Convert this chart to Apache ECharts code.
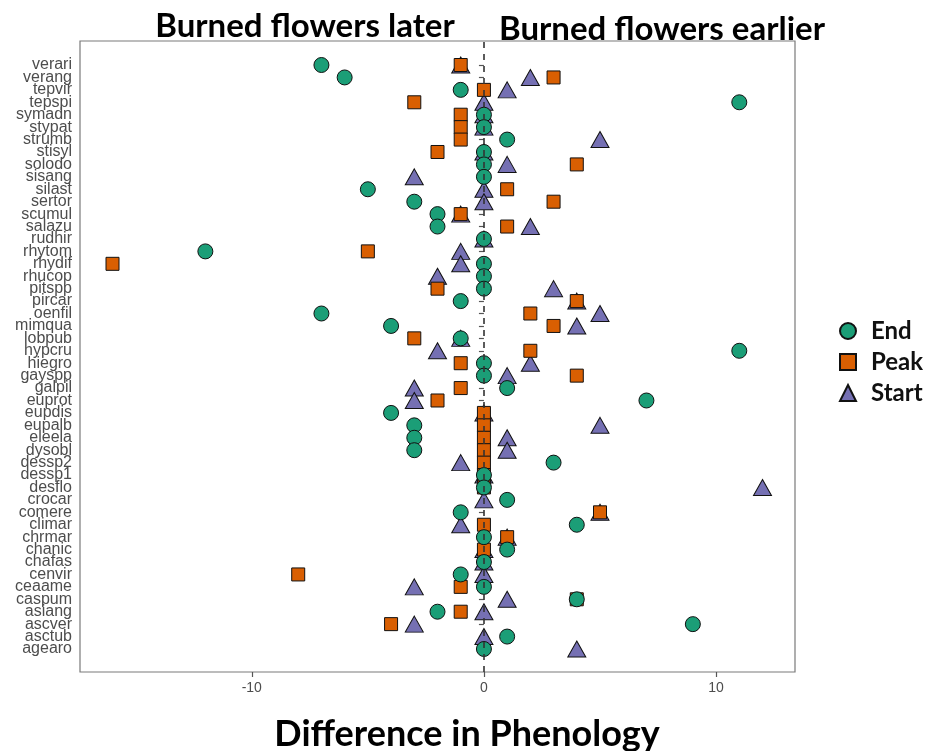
<!DOCTYPE html>
<html>
<head>
<meta charset="utf-8">
<script src="https://cdn.jsdelivr.net/npm/echarts@6/dist/echarts.min.js"></script>
<style>html,body{margin:0;padding:0;background:#fff;}#chart{width:934px;height:751px;}</style>
</head>
<body>
<div id="chart"></div>
<script>
// Species (top to bottom)
const species = ['verari','verang','tepvir','tepspi','symadn','stypat','strumb','stisyl','solodo','sisang','silast','sertor','scumul','salazu','rudhir','rhytom','rhydif','rhucop','pitspp','pircar','oenfil','mimqua','lobpub','hypcru','hiegro','gayspp','galpil','euprot','eupdis','eupalb','eleela','dysobl','dessp2','dessp1','desflo','crocar','comere','climar','chrmar','chanic','chafas','cenvir','ceaame','caspum','asiang','ascver','asctub','agearo'];
const endVals   = [-7,-6,-1,11,0,0,1,0,0,0,-5,-3,-2,-2,0,-12,0,0,0,-1,-7,-4,-1,11,0,0,1,7,-4,-3,-3,-3,3,0,0,1,-1,4,0,1,0,-1,0,4,-2,9,1,0];
const peakVals  = [-1,3,0,-3,-1,-1,-1,-2,4,null,1,3,-1,1,null,-5,-16,null,-2,4,2,3,-3,2,-1,4,-1,-2,0,0,0,0,0,0,0,null,5,0,1,0,null,-8,-1,4,-1,-4,null,null];
const startVals = [-1,2,1,0,0,0,5,0,1,-3,0,0,-1,2,0,-1,-1,-2,3,4,5,4,-1,-2,2,1,-3,-3,0,5,1,1,-1,0,12,0,5,-1,1,0,0,0,-3,1,0,-3,0,4];
const xTicks = [-10, 0, 10];
const seriesNames = ['End', 'Peak', 'Start'];

function pts(vals){
  const out = [];
  vals.forEach((v,i)=>{ if(v!==null) out.push([v, species[i]]); });
  return out;
}

const chart = echarts.init(document.getElementById('chart'), null, {renderer:'canvas'});
const XMIN = -17.4, XMAX = 13.4;
const labelFont = 'Liberation Sans';
const option = {
  backgroundColor: '#ffffff',
  animation: false,
  grid: [
    {left: 80, right: 139, top: 41, bottom: 79, show: true, borderColor: '#7a7a7a', borderWidth: 1.2, backgroundColor: 'transparent'},
    {left: 80, right: 139, top: 58.8, bottom: 95.8, show: false}
  ],
  xAxis: [
    {gridIndex: 0, type: 'value', min: XMIN, max: XMAX,
     axisLine: {show: false}, splitLine: {show: false},
     axisTick: {show: true, customValues: xTicks, length: 5, lineStyle: {color: '#555', width: 1.2}},
     axisLabel: {show: true, customValues: xTicks, color: '#4d4d4d', fontSize: 14, fontFamily: labelFont, margin: 9}},
    {gridIndex: 1, type: 'value', min: XMIN, max: XMAX, show: false}
  ],
  yAxis: [
    {gridIndex: 0, type: 'value', min: 0, max: 1, show: false},
    {gridIndex: 1, type: 'category', data: species, inverse: true, boundaryGap: true,
     axisLine: {show: false}, splitLine: {show: false},
     axisTick: {show: true, alignWithLabel: true, length: 5, lineStyle: {color: '#555', width: 1.2}},
     axisLabel: {color: '#4d4d4d', fontSize: 16, fontFamily: labelFont, margin: 8, interval: 0}}
  ],
  legend: {
    orient: 'vertical', left: 834, top: 314, itemWidth: 16, itemHeight: 16, itemGap: 7,
    data: seriesNames,
    textStyle: {fontSize: 24, fontWeight: 'bold', color: '#111', fontFamily: 'Lato', padding: [0,0,0,10], lineHeight: 24}
  },
  series: [
    {name: 'Start', type: 'scatter', xAxisIndex: 1, yAxisIndex: 1, symbol: 'triangle', symbolSize: [18,16], z: 2,
     itemStyle: {color: '#7570B3', borderColor: '#111', borderWidth: 1, opacity: 1}, data: pts(startVals)},
    {name: 'Peak', type: 'scatter', xAxisIndex: 1, yAxisIndex: 1, symbol: 'rect', symbolSize: 13, z: 3,
     itemStyle: {color: '#D95F02', borderColor: '#111', borderWidth: 1, opacity: 1}, data: pts(peakVals)},
    {name: 'End', type: 'scatter', xAxisIndex: 1, yAxisIndex: 1, symbol: 'circle', symbolSize: 15, z: 4,
     itemStyle: {color: '#1B9E77', borderColor: '#111', borderWidth: 1, opacity: 1}, data: pts(endVals)},
    {name: 'zero', type: 'scatter', xAxisIndex: 0, yAxisIndex: 0, data: [], z: 10, silent: true,
     markLine: {silent: true, symbol: 'none', label: {show: false}, z: 10,
       lineStyle: {color: '#333', width: 1.6, type: [6,6]}, data: [{xAxis: 0}]}}
  ],
  graphic: [
    {type: 'text', x: 305, y: 26, z: 20, style: {text: 'Burned flowers later', font: 'bold 33px Lato', fill: '#000', textAlign: 'center', textVerticalAlign: 'middle'}},
    {type: 'text', x: 662, y: 29, z: 20, style: {text: 'Burned flowers earlier', font: 'bold 33px Lato', fill: '#000', textAlign: 'center', textVerticalAlign: 'middle'}},
    {type: 'text', x: 467, y: 734, z: 20, style: {text: 'Difference in Phenology', font: 'bold 36px Lato', fill: '#000', textAlign: 'center', textVerticalAlign: 'middle'}}
  ]
};
chart.setOption(option);
</script>
</body>
</html>
